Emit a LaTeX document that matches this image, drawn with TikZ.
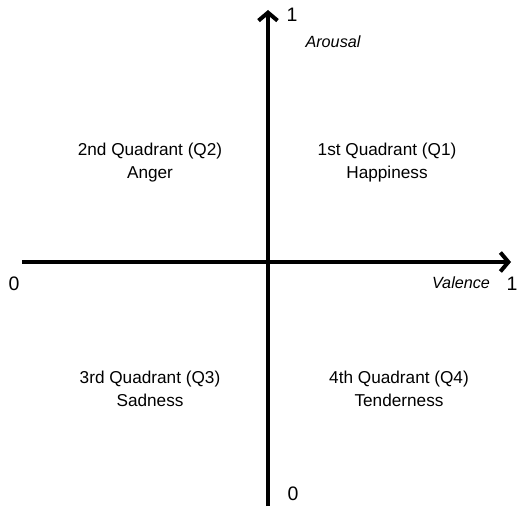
\documentclass[tikz,border=0pt]{standalone}
\usepackage{fontspec}
\setmainfont{Liberation Sans}
\usepackage{tikz}
\usetikzlibrary{arrows.meta,positioning,calc}

\begin{document}
\begin{tikzpicture}[
  x=1pt, y=-1pt,
  quad/.style={align=center, font=\fontsize{17.2}{23}\selectfont, inner sep=0pt},
  tick/.style={font=\fontsize{19.5}{20}\selectfont, inner sep=0pt},
  axname/.style={font=\fontsize{16.2}{18}\selectfont\itshape, inner sep=0pt},
  ax/.style={line width=4.2pt, -{Straight Barb[length=8pt, width=19pt, line width=4pt]}}
]
\useasboundingbox (0,0) rectangle (518,508);

\coordinate (xl) at (22,262);
\coordinate (xr) at (511,262);
\coordinate (yb) at (268,506);
\coordinate (yt) at (268,10);

\draw[ax] (xl) -- (xr);
\draw[ax] (yb) -- (yt);

\node[tick] (ytop) at (292,15) {1};
\node[axname] (arousal) at (333,42) {Arousal};
\node[tick] (xzero) at (14,284) {0};
\node[axname] (valence) at (461,283) {Valence};
\node[tick] (xone) at (512,284) {1};
\node[tick] (yzero) at (293,494) {0};

\node[quad] (q2) at (150,163) {2nd Quadrant (Q2)\\ Anger};
\node[quad] (q1) at (387,163) {1st Quadrant (Q1)\\ Happiness};
\node[quad] (q3) at (150,389) {3rd Quadrant (Q3)\\ Sadness};
\node[quad] (q4) at (399,389) {4th Quadrant (Q4)\\ Tenderness};
\end{tikzpicture}
\end{document}
